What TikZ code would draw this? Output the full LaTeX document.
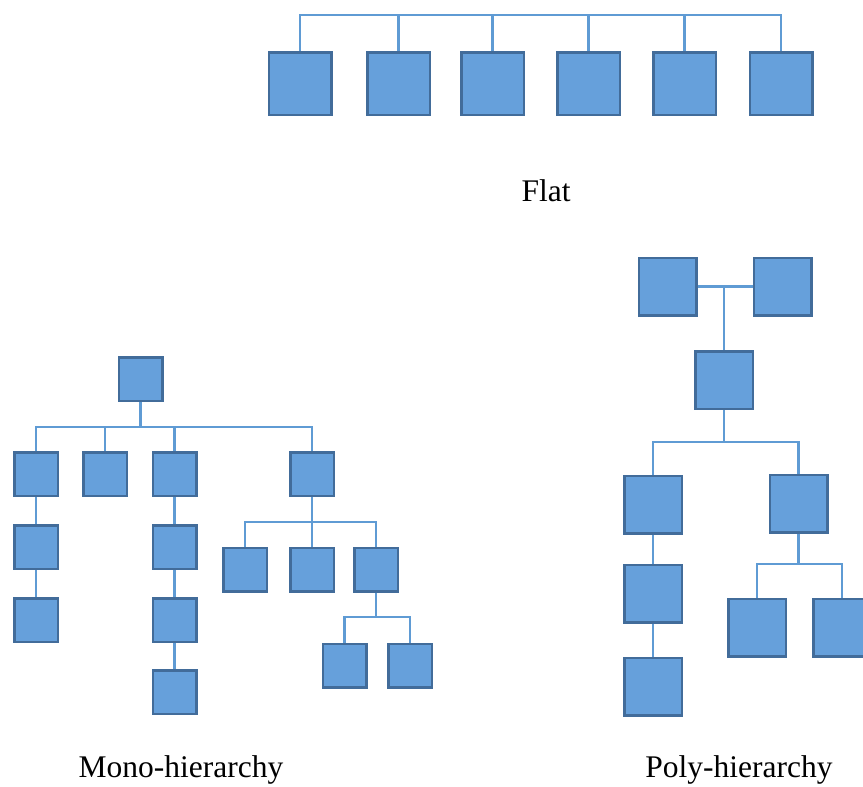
\documentclass[tikz,border=0pt]{standalone}
\usepackage{fontspec}
\setmainfont{Liberation Serif}
\usepackage{tikz}
\usetikzlibrary{positioning}
\definecolor{boxfill}{RGB}{102,160,219}
\definecolor{boxline}{RGB}{66,108,154}
\definecolor{wire}{RGB}{95,155,212}

\begin{document}
\begin{tikzpicture}[x=1pt,y=-1pt,node distance=27pt,
  caja/.style={draw=boxline,fill=boxfill,line width=2.5pt,inner sep=0pt,minimum size=#1},
  caja/.default=43.5pt,
  enlace/.style={draw=wire,line width=2.2pt},
  rotulo/.style={font=\fontsize{31.5}{38}\selectfont}]
\useasboundingbox (0,0) rectangle (863,787);
\node[caja=62.5pt] (f1) at (300,83.5) {};
\node[caja=62.5pt] (f2) at (398.5,83.5) {};
\node[caja=62.5pt] (f3) at (492.5,83.5) {};
\node[caja=62.5pt] (f4) at (588.5,83.5) {};
\node[caja=62.5pt] (f5) at (684.5,83.5) {};
\node[caja=62.5pt] (f6) at (781,83.5) {};
\coordinate (fbar) at (540,15);
\draw[enlace] (f1.north) -- (f1.north |- fbar) -- (f6.north |- fbar) -- (f6.north);
\foreach \n in {f2,f3,f4,f5}
  \draw[enlace] (\n.north) -- (\n.north |- fbar);
\node[rotulo] (flat) at (546,191) {Flat};
\node[caja] (raiz) at (140.5,379) {};
\node[caja] (m1) at (36,474) {};
\node[caja] (m2) at (105,474) {};
\node[caja] (m3) at (174.5,474) {};
\node[caja] (m4) at (312,474) {};
\node[caja,below=of m1] (m11) {};
\node[caja,below=of m11] (m12) {};
\node[caja,below=of m3] (m31) {};
\node[caja,below=of m31] (m32) {};
\node[caja,below=26pt of m32] (m33) {};
\node[caja] (m41) at (245,569.5) {};
\node[caja] (m42) at (312,569.5) {};
\node[caja] (m43) at (376,569.5) {};
\node[caja] (m431) at (344.5,665.5) {};
\node[caja] (m432) at (410,665.5) {};
\coordinate (mbar) at (170,427);
\coordinate (mbar4) at (312,522);
\coordinate (mbar43) at (376,617);
\draw[enlace] (m1.north) -- (m1.north |- mbar) -- (m4.north |- mbar) -- (m4.north);
\foreach \n in {raiz.south,m2.north,m3.north}
  \draw[enlace] (\n) -- (\n |- mbar);
\draw[enlace] (m41.north) -- (m41.north |- mbar4) -- (m43.north |- mbar4) -- (m43.north);
\draw[enlace] (m4.south) -- (m42.north);
\draw[enlace] (m431.north) -- (m431.north |- mbar43) -- (m432.north |- mbar43) -- (m432.north);
\draw[enlace] (m43.south) -- (m43.south |- mbar43);
\draw[enlace] (m1) -- (m11);
\draw[enlace] (m11) -- (m12);
\draw[enlace] (m3) -- (m31);
\draw[enlace] (m31) -- (m32);
\draw[enlace] (m32) -- (m33);
\node[rotulo] (mono) at (181,770) {Mono-hierarchy};
\node[caja=57.5pt] (pa) at (667.5,286.5) {};
\node[caja=57.5pt] (pb) at (782.5,286.5) {};
\node[caja=57.5pt] (pm) at (724,380) {};
\node[caja=57.5pt] (p1) at (653,504.5) {};
\node[caja=57.5pt] (p2) at (798.5,503.5) {};
\node[caja=57.5pt] (p11) at (653,593.5) {};
\node[caja=57.5pt] (p12) at (653,686.5) {};
\node[caja=57.5pt] (p21) at (757,627.5) {};
\node[caja=57.5pt] (p22) at (842,627.5) {};
\coordinate (pbar) at (724,442);
\coordinate (pbar2) at (798.5,564);
\draw[enlace] (pa.east) -- (pb.west);
\draw[enlace] (pm.north) -- (pm.north |- pa.east);
\draw[enlace] (p1.north) -- (p1.north |- pbar) -- (p2.north |- pbar) -- (p2.north);
\draw[enlace] (pm.south) -- (pm.south |- pbar);
\draw[enlace] (p1) -- (p11);
\draw[enlace] (p11) -- (p12);
\draw[enlace] (p21.north) -- (p21.north |- pbar2) -- (p22.north |- pbar2) -- (p22.north);
\draw[enlace] (p2.south) -- (p2.south |- pbar2);
\node[rotulo] (poly) at (739,770) {Poly-hierarchy};
\end{tikzpicture}
\end{document}
